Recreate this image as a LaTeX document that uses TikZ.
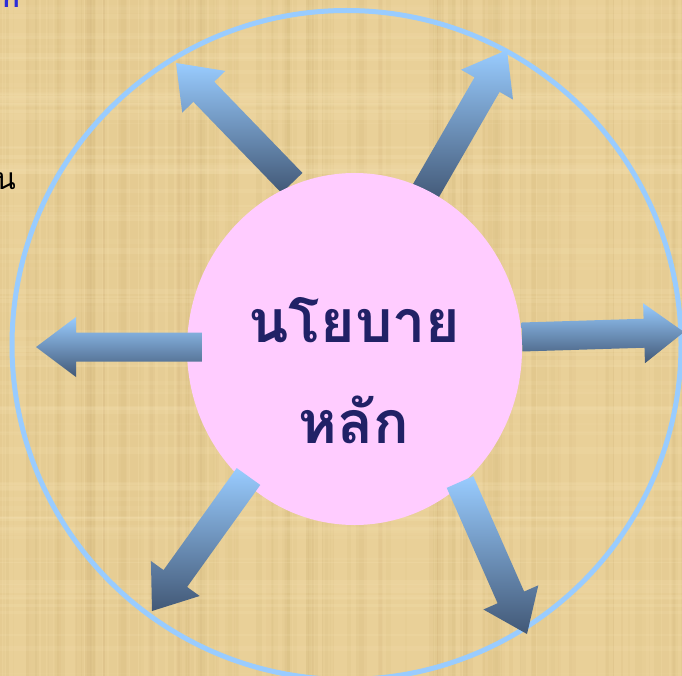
\documentclass[tikz,border=0pt]{standalone}
\usepackage{fontspec}
\newfontfamily\thaifont[Script=Thai]{Loma}
\usetikzlibrary{calc}
\definecolor{bgtan}{RGB}{233,208,152}
\definecolor{bgdark}{RGB}{196,166,104}
\definecolor{bglight}{RGB}{250,232,186}
\definecolor{ringblue}{RGB}{153,204,255}
\definecolor{arrowlight}{RGB}{153,204,255}
\definecolor{arrowdark}{RGB}{66,88,118}
\definecolor{pinkfill}{RGB}{255,204,255}
\definecolor{navytext}{RGB}{33,33,102}
\definecolor{tinyblue}{RGB}{45,45,215}
\tikzset{
  blockarrow/.style={top color=arrowlight,bottom color=arrowdark,draw=none},
  ring/.style={draw=ringblue,line width=5pt},
  hub/.style={fill=pinkfill,draw=none},
  hubtext/.style={font=\thaifont\bfseries\fontsize{59}{66}\selectfont,text=navytext,inner sep=0pt},
  sidetext/.style={font=\thaifont\fontsize{30}{34}\selectfont,inner sep=0pt}
}
\newcommand\blkarrow[2]{%
  \coordinate (#1h) at ($(#2)!40pt!(#1)$);
  \path[blockarrow]
    ($(#1)!14.5pt!90:(#2)$) --
    ($(#1h)!14.5pt!90:(#2)$) --
    ($(#1h)!30pt!90:(#2)$) --
    (#2) --
    ($(#1h)!30pt!-90:(#2)$) --
    ($(#1h)!14.5pt!-90:(#2)$) --
    ($(#1)!14.5pt!-90:(#2)$) -- cycle;
}
\begin{document}
\begin{tikzpicture}[x=1pt,y=-1pt]
\useasboundingbox (0,0) rectangle (682,676);
% background
\fill[bgtan] (0,0) rectangle (682,676);
\pgfmathsetseed{7}
\foreach \i in {1,...,140}{
  \pgfmathsetmacro\xx{rnd*682}
  \pgfmathsetmacro\ww{1+rnd*7}
  \pgfmathsetmacro\oo{0.04+rnd*0.08}
  \fill[bgdark,opacity=\oo] (\xx,0) rectangle ++(\ww,676);
}
\foreach \i in {1,...,90}{
  \pgfmathsetmacro\yy{rnd*676}
  \pgfmathsetmacro\hh{1+rnd*6}
  \pgfmathsetmacro\oo{0.06+rnd*0.12}
  \fill[bglight,opacity=\oo] (0,\yy) rectangle ++(682,\hh);
}
% cut-off texts at the edges
\node[sidetext,text=tinyblue,font=\thaifont\bfseries\fontsize{30}{34}\selectfont,anchor=base west] (topfrag) at (2,8) {ก};
\node[sidetext,text=black,anchor=base east] (leftfrag) at (16,190) {น};
% outer ring
\node[ring,circle,minimum size=669pt,inner sep=0pt] (outer) at (346.5,345) {};
% arrow end points
\coordinate (ult) at (292,183);
\coordinate (ulp) at (176,63);
\coordinate (urt) at (424,194);
\coordinate (urp) at (507,50);
\coordinate (lt) at (202,347);
\coordinate (lp) at (36,347);
\coordinate (rt) at (522,337);
\coordinate (rp) at (684,332);
\coordinate (llt) at (248.5,476.5);
\coordinate (llp) at (152,611);
\coordinate (lrt) at (460,482);
\coordinate (lrp) at (527,634);
% arrows behind the hub
\blkarrow{ult}{ulp}
\blkarrow{urt}{urp}
% hub
\fill[hub] (354.5,349) ellipse [x radius=167.5pt, y radius=176pt];
\coordinate (hubc) at (354.5,349);
% arrows on top of the hub
\blkarrow{lt}{lp}
\blkarrow{rt}{rp}
\blkarrow{llt}{llp}
\blkarrow{lrt}{lrp}
% hub text
\node[hubtext,anchor=base] (line1) at (354.5,342) {นโยบาย};
\node[hubtext,anchor=base] (line2) at (353.5,443) {หลัก};
\end{tikzpicture}
\end{document}
